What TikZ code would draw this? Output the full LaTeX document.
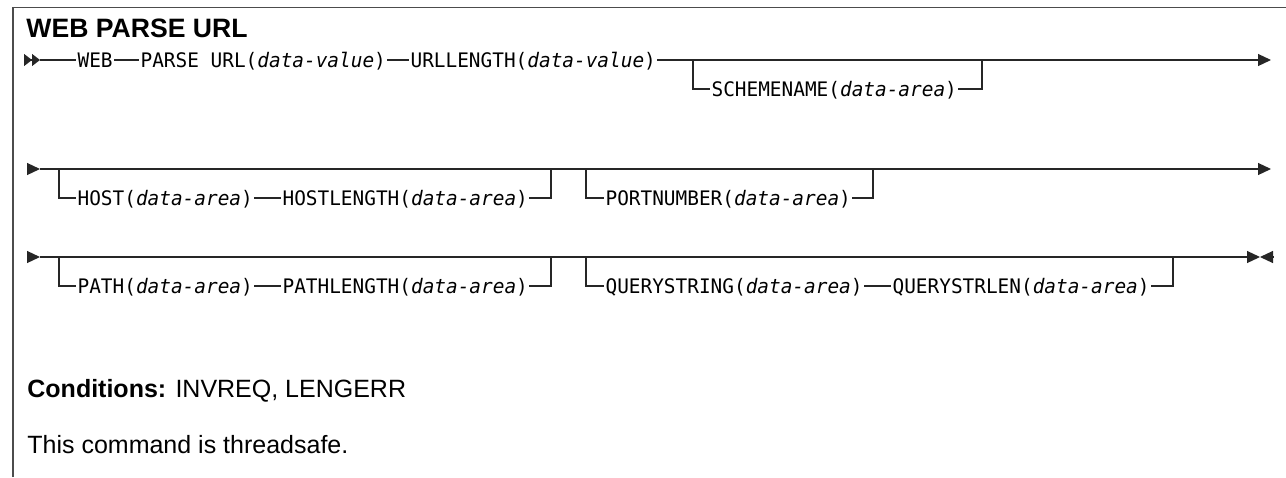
\documentclass[tikz,border=0pt]{standalone}
\usepackage{fontspec}
\setmainfont{Liberation Sans}
\newfontfamily\railfont[FakeStretch=0.97]{DejaVu Sans Mono}
\usetikzlibrary{arrows.meta,positioning}

\newcommand{\argvalue}{(\textit{data-value})}
\newcommand{\argarea}{(\textit{data-area})}

\tikzset{
  rail/.style={line width=0.6pt, black!85},
  kw/.style={font=\railfont\fontsize{10}{12}\selectfont, inner xsep=0.6pt, inner ysep=0pt,
    text height=7.3pt, text depth=0pt, anchor=west},
  endtip/.style={-{Triangle[length=6.5pt,width=6pt]}},
  starttip/.style={-{Triangle[length=4pt,width=6pt] Triangle[length=4pt,width=6pt]}},
}

\begin{document}
\begin{tikzpicture}[x=0.5pt, y=-0.5pt]
  \useasboundingbox (0,0) rectangle (1286,477);
  % page frame
  \draw[line width=0.8pt, black!70] (13,477) -- (13,7.5) -- (1286,7.5);
  % heading
  \node[anchor=base west, inner sep=0, font=\bfseries\fontsize{13.3}{15}\selectfont] (title) at (26,37) {WEB PARSE URL};

  % first line
  \coordinate (r1s) at (24,60);
  \coordinate (r1a) at (40,60);
  \node[kw] (web) at (76,60) {WEB};
  \node[kw] (parse) at (139,60) {PARSE URL\argvalue};
  \node[kw] (urllen) at (409,60) {URLLENGTH\argvalue};
  \coordinate (sch-in) at (693,60);
  \node[kw] (scheme) at (710,89) {SCHEMENAME\argarea};
  \coordinate (sch-out) at (982,60);
  \coordinate (r1e) at (1271,60);
  \draw[rail, starttip] (r1s) -- (r1a);
  \draw[rail] (r1a) -- (web) -- (parse) -- (urllen);
  \draw[rail, endtip] (urllen) -- (r1e);
  \draw[rail] (sch-in) |- (scheme);
  \draw[rail] (scheme) -| (sch-out);

  % second line
  \coordinate (r2s) at (27,169);
  \coordinate (r2a) at (40,169);
  \coordinate (host-in) at (59,169);
  \node[kw] (host) at (76,198) {HOST\argarea};
  \node[kw] (hostlen) at (281,198) {HOSTLENGTH\argarea};
  \coordinate (host-out) at (551,169);
  \coordinate (port-in) at (586,169);
  \node[kw] (port) at (604,198) {PORTNUMBER\argarea};
  \coordinate (port-out) at (873,169);
  \coordinate (r2e) at (1271,169);
  \draw[rail, endtip] (r2s) -- (r2a);
  \draw[rail, endtip] (r2a) -- (r2e);
  \draw[rail] (host-in) |- (host);
  \draw[rail] (host) -- (hostlen);
  \draw[rail] (hostlen) -| (host-out);
  \draw[rail] (port-in) |- (port);
  \draw[rail] (port) -| (port-out);

  % third line
  \coordinate (r3s) at (27,257);
  \coordinate (r3a) at (40,257);
  \coordinate (path-in) at (59,257);
  \node[kw] (path) at (76,286) {PATH\argarea};
  \node[kw] (pathlen) at (281,286) {PATHLENGTH\argarea};
  \coordinate (path-out) at (551,257);
  \coordinate (query-in) at (586,257);
  \node[kw] (query) at (604,286) {QUERYSTRING\argarea};
  \node[kw] (querylen) at (891,286) {QUERYSTRLEN\argarea};
  \coordinate (query-out) at (1173,257);
  \coordinate (r3e) at (1260,257);
  \coordinate (r3f) at (1273,257);
  \draw[rail, endtip] (r3s) -- (r3a);
  \draw[rail, endtip] (r3a) -- (r3e);
  \draw[rail, {Triangle[length=6.5pt,width=6pt]}-] (r3e) -- (r3f);
  \draw[rail] (path-in) |- (path);
  \draw[rail] (path) -- (pathlen);
  \draw[rail] (pathlen) -| (path-out);
  \draw[rail] (query-in) |- (query);
  \draw[rail] (query) -- (querylen);
  \draw[rail] (querylen) -| (query-out);

  % conditions and note
  \node[anchor=base west, inner sep=0, font=\fontsize{12.5}{15}\selectfont] (cond) at (27,397) {\textbf{Conditions:} INVREQ, LENGERR};
  \node[anchor=base west, inner sep=0, font=\fontsize{12.5}{15}\selectfont] (note) at (27,453) {This command is threadsafe.};
\end{tikzpicture}
\end{document}
